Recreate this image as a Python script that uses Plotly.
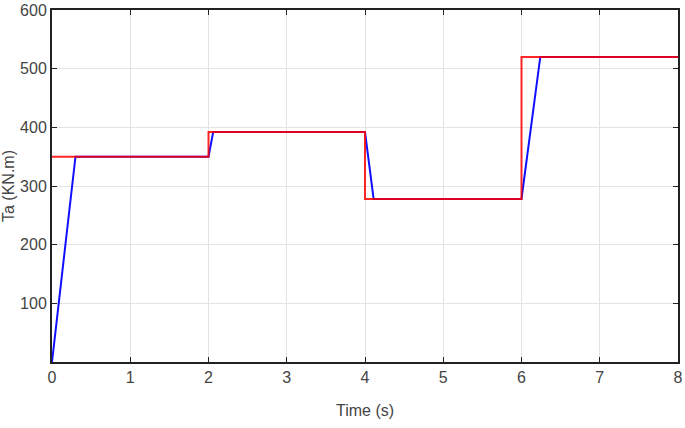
import plotly.graph_objects as go

# reference signal (red) and measured response (blue)
ref_t = [0, 2, 2, 4, 4, 6, 6, 8]
ref_ta = [350, 350, 392, 392, 278, 278, 520, 520]

resp_t = [0, 0.3, 2.0, 2.06, 4.0, 4.11, 6.0, 6.24, 8]
resp_ta = [0, 350, 350, 392, 392, 278, 278, 520, 520]

xticks = [0, 1, 2, 3, 4, 5, 6, 7, 8]
yticks = [100, 200, 300, 400, 500, 600]

fig = go.Figure()
fig.add_trace(go.Scatter(x=resp_t, y=resp_ta, mode='lines',
                         line=dict(color='#1010ff', width=2), showlegend=False))
fig.add_trace(go.Scatter(x=ref_t, y=ref_ta, mode='lines',
                         line=dict(color='rgba(255,0,0,0.85)', width=2), showlegend=False))

axis_common = dict(showline=True, linecolor='#222', linewidth=2, mirror='ticks',
                   ticks='inside', ticklen=5, tickcolor='#222',
                   showgrid=True, gridcolor='#e3e3e3', gridwidth=1,
                   zeroline=False, automargin=False,
                   tickfont=dict(size=16, color='#444'))

fig.update_layout(
    width=685, height=428,
    margin=dict(l=52, r=7, t=10, b=66, autoexpand=False),
    paper_bgcolor='white', plot_bgcolor='white',
    font=dict(family='Liberation Sans, Arial, sans-serif', color='#444'),
    xaxis=dict(range=[0, 8], tickvals=xticks,
               title=dict(text='Time (s)', font=dict(size=16), standoff=20),
               **axis_common),
    yaxis=dict(range=[0, 600], tickvals=yticks,
               title=dict(text='Ta (KN.m)', font=dict(size=16), standoff=16),
               **axis_common),
)

# drop the default 8px body margin so the figure sits at the page corner
fig.write_html("out.html", config={'displayModeBar': False},
               post_script="document.body.style.margin='0';")
